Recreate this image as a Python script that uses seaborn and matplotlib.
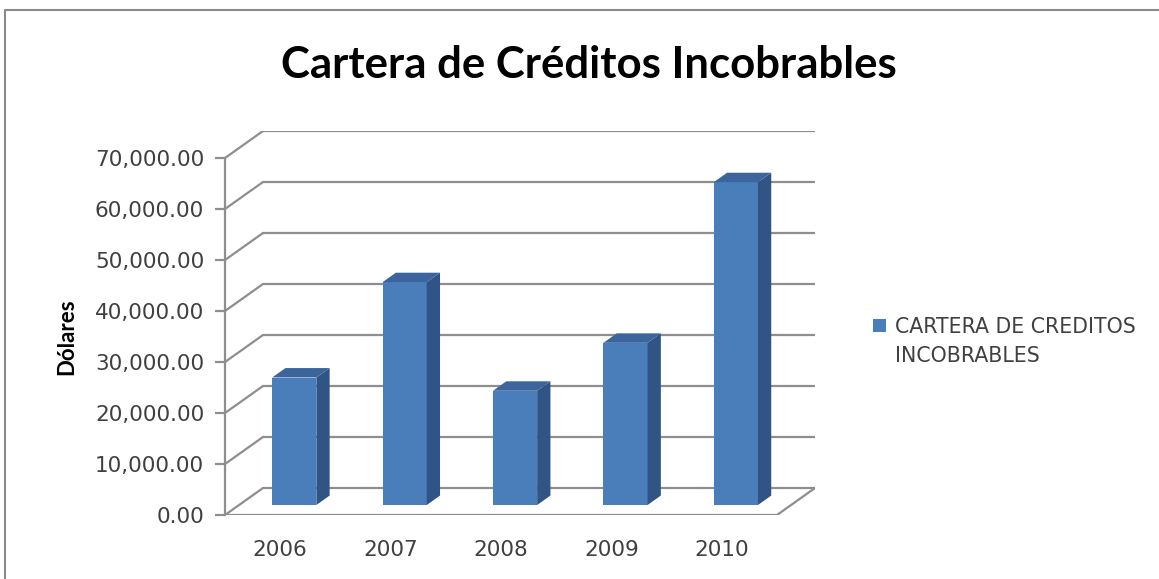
import numpy as np
import pandas as pd
import matplotlib
matplotlib.use("Agg")
import matplotlib.pyplot as plt
import matplotlib.transforms as mtransforms
from matplotlib.patches import Polygon, Rectangle
from matplotlib.lines import Line2D
from matplotlib.legend_handler import HandlerPatch
import seaborn as sns

# ---- data ----
years = ["2006", "2007", "2008", "2009", "2010"]
values = [25000, 43700, 22400, 31800, 63300]
series_name = "CARTERA DE CREDITOS\nINCOBRABLES"
title = "Cartera de Créditos Incobrables"
y_label = "Dólares"
y_ticks = [0, 10000, 20000, 30000, 40000, 50000, 60000, 70000]

df = pd.DataFrame({"year": years, "value": values})

sns.set_theme(style="white")
plt.rcParams["font.family"] = ["DejaVu Sans"]

W, H = 1159, 579
fig = plt.figure(figsize=(W / 100, H / 100), dpi=100)
fig.patch.set_facecolor("white")

# axes geometry (pixels)
x_left, x_right = 225, 815
y_bottom, y_top = 515, 131
ax = fig.add_axes([x_left / W, 1 - y_bottom / H, (x_right - x_left) / W, (y_bottom - y_top) / H])

px_per_cat = (777 - 225) / 5.0
px_per_unit_y = 51.0 / 10000
DX = 38 / px_per_cat            # depth offset in x data units
DY = 27 / px_per_unit_y         # depth offset in y data units
ymax = 70000

front_col = "#4A7EBB"
side_col = "#2F5485"
top_col = "#3B659C"
grid_col = "#8E8E8E"
text_col = "#404040"

bar_w = 0.4
f0 = 0.37      # depth fraction of bar front face
fd = 0.35      # bar depth fraction

sns.barplot(data=df, x="year", y="value", ax=ax, width=bar_w, color=front_col,
            saturation=1, label=series_name, zorder=3, linewidth=0)

shift = mtransforms.Affine2D().translate(f0 * DX, f0 * DY) + ax.transData
for p in list(ax.patches):
    p.set_transform(shift)
    xl = p.get_x()
    xr = xl + p.get_width()
    v = p.get_height()
    ddx, ddy = fd * DX, fd * DY
    side = Polygon([(xr, 0), (xr + ddx, ddy), (xr + ddx, v + ddy), (xr, v)],
                   closed=True, facecolor=side_col, edgecolor="none", transform=shift, zorder=3)
    top = Polygon([(xl, v), (xl + ddx, v + ddy), (xr + ddx, v + ddy), (xr, v)],
                  closed=True, facecolor=top_col, edgecolor="none", transform=shift, zorder=3)
    ax.add_patch(side)
    ax.add_patch(top)

# gridlines (3D walls)
n = len(years)
x0, x1 = -0.5, n - 0.5
for t in y_ticks:
    ax.plot([x0 + DX, x1 + DX], [t + DY, t + DY], color=grid_col, lw=1.6, zorder=1)
    ax.plot([x0, x0 + DX], [t, t + DY], color=grid_col, lw=1.6, zorder=1)
# floor front and right edges
ax.plot([x0, x1], [0, 0], color=grid_col, lw=1.6, zorder=1)
ax.plot([x1, x1 + DX], [0, DY], color=grid_col, lw=1.6, zorder=1)

ax.set_xlim(x0, x0 + (x_right - x_left) / px_per_cat)
ax.set_ylim(0, ymax + DY)

for s in ["top", "right", "bottom"]:
    ax.spines[s].set_visible(False)
ax.spines["left"].set_bounds(0, ymax)
ax.spines["left"].set_color(grid_col)
ax.spines["left"].set_linewidth(1.6)

ax.set_yticks(y_ticks)
ax.set_yticklabels([f"{t:,.2f}" for t in y_ticks])
ax.tick_params(axis="y", direction="out", length=7, width=1.6, color=grid_col,
               labelsize=15.5, labelcolor=text_col, pad=8, left=True)
ax.set_xticks(range(n))
ax.set_xticklabels(years)
ax.tick_params(axis="x", length=0, labelsize=15.5, labelcolor=text_col, pad=18)
ax.set_xlabel("")
ax.set_ylabel(y_label, fontsize=16, fontweight="bold", color="black", family=["Lato", "DejaVu Sans"])
ax.yaxis.set_label_coords((77 - x_left) / (x_right - x_left), (y_bottom - 337) / (y_bottom - y_top))
ax.grid(False)
ax.set_facecolor("none")

# legend
leg_fs = 14.8

class ShiftedHandler(HandlerPatch):
    def create_artists(self, legend, orig_handle, xdescent, ydescent, width, height, fontsize, trans):
        r = Rectangle((-xdescent, -ydescent + 0.83 * fontsize), width, height,
                      facecolor=front_col, edgecolor="none", transform=trans)
        return [r]

handles, labels = ax.get_legend_handles_labels()
leg = ax.legend(handles[:1], labels[:1], loc="upper left", bbox_to_anchor=(873 / W, 1 - 317 / H),
                bbox_transform=fig.transFigure, frameon=False, fontsize=leg_fs,
                borderpad=0, borderaxespad=0,
                handlelength=0.63, handleheight=0.63, handletextpad=0.44,
                labelcolor=text_col, handler_map={type(handles[0]): ShiftedHandler()})
for t in leg.get_texts():
    t.set_linespacing(1.58)

# title
fig.text(589 / W, 1 - 65 / H, title, ha="center", va="center", fontsize=31.5, fontweight="bold",
         color="black", family=["Lato", "DejaVu Sans"])

# chart border
fig.add_artist(Line2D([5 / W, 1.0], [1 - 10 / H, 1 - 10 / H], transform=fig.transFigure,
                      color="#8a8a8a", lw=1.5))
fig.add_artist(Line2D([5 / W, 5 / W], [1 - 10 / H, 0.0], transform=fig.transFigure,
                      color="#8a8a8a", lw=1.5))

fig.savefig("out.png", dpi=100)
